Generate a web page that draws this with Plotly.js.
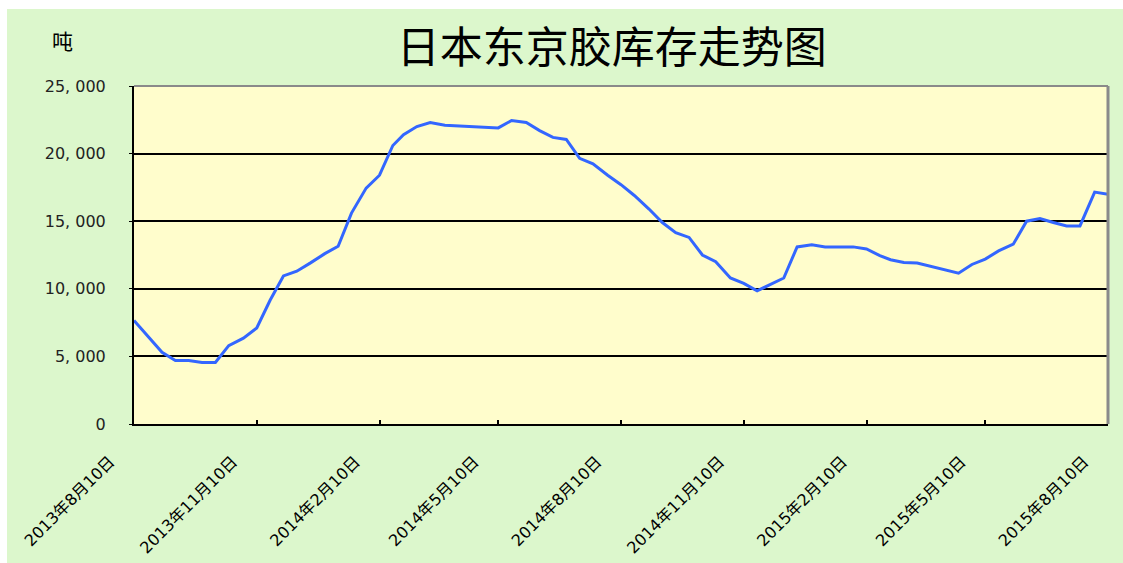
<!DOCTYPE html>
<html>
<head>
<meta charset="utf-8">
<script src="https://cdn.plot.ly/plotly-3.0.1.min.js"></script>
<style>
  html, body { margin: 0; padding: 0; background: #ffffff; }
  #chart { position: absolute; left: 7px; top: 9px; width: 1116px; height: 554px; }
</style>
</head>
<body>
<div id="chart"></div>
<script>
// inventory dates (reported roughly every 10 days)
var dates = [
  "2013-08-10", "2013-08-20", "2013-08-31", "2013-09-10", "2013-09-20", "2013-09-30",
  "2013-10-10", "2013-10-20", "2013-10-31", "2013-11-10", "2013-11-20", "2013-11-30",
  "2013-12-10", "2013-12-20", "2013-12-31", "2014-01-10", "2014-01-20", "2014-01-31",
  "2014-02-10", "2014-02-20", "2014-02-28", "2014-03-10", "2014-03-20", "2014-03-31",
  "2014-04-10", "2014-04-20", "2014-04-30", "2014-05-10", "2014-05-20", "2014-05-31",
  "2014-06-10", "2014-06-20", "2014-06-30", "2014-07-10", "2014-07-20", "2014-07-31",
  "2014-08-10", "2014-08-20", "2014-08-31", "2014-09-10", "2014-09-20", "2014-09-30",
  "2014-10-10", "2014-10-20", "2014-10-31", "2014-11-10", "2014-11-20", "2014-11-30",
  "2014-12-10", "2014-12-20", "2014-12-31", "2015-01-10", "2015-01-20", "2015-01-31",
  "2015-02-10", "2015-02-20", "2015-02-28", "2015-03-10", "2015-03-20", "2015-03-31",
  "2015-04-10", "2015-04-20", "2015-04-30", "2015-05-10", "2015-05-20", "2015-05-31",
  "2015-06-10", "2015-06-20", "2015-06-30", "2015-07-10", "2015-07-20", "2015-07-31",
  "2015-08-10"
];
// stock in tonnes
var stock = [
  7650, 6550, 5300, 4700, 4700, 4550,
  4550, 5800, 6350, 7100, 9150, 10950,
  11300, 11900, 12600, 13150, 15600, 17450,
  18400, 20600, 21400, 22000, 22300, 22100,
  22050, 22000, 21900, 21900, 22450, 22300,
  21700, 21200, 21050, 19650, 19250, 18400,
  17700, 16900, 15900, 14900, 14150, 13800,
  12500, 12000, 10800, 10400, 9850, 10300,
  10800, 13100, 13250, 13100, 13100, 13100,
  12950, 12450, 12150, 11950, 11900, 11650,
  11400, 11150, 11800, 12200, 12800, 13300,
  15000, 15200, 14900, 14650, 14650, 17150,
  17000
];

var xTicks = ["2013-08-10", "2013-11-10", "2014-02-10", "2014-05-10", "2014-08-10",
  "2014-11-10", "2015-02-10", "2015-05-10", "2015-08-10"];
var xTickText = ["2013年8月10日", "2013年11月10日", "2014年2月10日", "2014年5月10日", "2014年8月10日",
  "2014年11月10日", "2015年2月10日", "2015年5月10日", "2015年8月10日"];
var yTicks = [0, 5000, 10000, 15000, 20000, 25000];
var yTickText = ["0", "5, 000", "10, 000", "15, 000", "20, 000", "25, 000"];

var data = [{
  type: "scatter",
  mode: "lines",
  x: dates,
  y: stock,
  line: { color: "#3366ff", width: 3 },
  hoverinfo: "x+y"
}];

var layout = {
  width: 1116,
  height: 554,
  paper_bgcolor: "#dcf7cc",
  plot_bgcolor: "#fffdcc",
  margin: { l: 127, r: 15, t: 77, b: 139 },
  showlegend: false,
  title: {
    text: "日本东京胶库存走势图",
    font: { family: "Noto Sans CJK SC", size: 43, color: "#000000" },
    x: 0.542, xanchor: "center",
    y: 0.93, yanchor: "middle"
  },
  xaxis: {
    type: "date",
    range: ["2013-08-10", "2015-08-10"],
    tickvals: xTicks,
    ticktext: xTickText,
    tickangle: -45,
    ticks: "inside",
    ticklen: 4,
    tickwidth: 1.5,
    tickcolor: "#000000",
    ticklabelstandoff: 20,
    ticklabelshift: -24,
    tickfont: { family: "DejaVu Sans, Noto Sans CJK SC", size: 16, color: "#000000" },
    showgrid: false,
    showline: true,
    linecolor: "#000000",
    linewidth: 2,
    mirror: false,
    zeroline: false
  },
  yaxis: {
    range: [0, 25000],
    tickvals: yTicks,
    ticktext: yTickText,
    ticks: "outside",
    ticklen: 3,
    tickcolor: "#000000",
    ticklabelstandoff: 20,
    tickfont: { family: "DejaVu Sans", size: 16, color: "#222222" },
    showgrid: true,
    gridcolor: "#000000",
    gridwidth: 1.5,
    showline: true,
    linecolor: "#000000",
    linewidth: 2,
    zeroline: false
  },
  shapes: [
    // grey frame on top and right of the plot area
    { type: "line", xref: "paper", yref: "paper", x0: 0, x1: 1, y0: 1, y1: 1,
      line: { color: "#8a8a8a", width: 2 } },
    { type: "line", xref: "paper", yref: "paper", x0: 1, x1: 1, y0: 0, y1: 1,
      line: { color: "#8a8a8a", width: 3 } }
  ],
  annotations: [{
    text: "吨",
    xref: "paper", yref: "paper",
    x: -0.073, y: 1.136,
    xanchor: "center", yanchor: "middle",
    showarrow: false,
    font: { family: "Noto Sans CJK SC", size: 21, color: "#000000" }
  }]
};

Plotly.newPlot("chart", data, layout, { displayModeBar: false });
</script>
</body>
</html>
